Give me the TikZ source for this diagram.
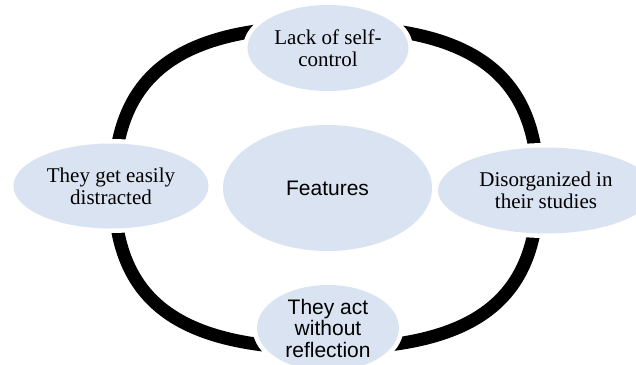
\documentclass[tikz,border=0pt]{standalone}
\usepackage{fontspec}
\setmainfont{Liberation Serif}
\setsansfont{Liberation Sans}
\usetikzlibrary{shapes.geometric}
\definecolor{nodefill}{RGB}{218,227,241}
\tikzset{
  x=1pt, y=-1pt,
  bubble/.style={ellipse, fill=nodefill, inner sep=0pt, align=center,
    preaction={draw=white, line width=9pt}},
  serifbubble/.style={bubble, font=\fontsize{21}{22}\selectfont\rmfamily},
  sansbubble/.style={bubble, font=\fontsize{21}{21.5}\selectfont\sffamily},
  loop/.style={line width=13pt, draw=black}
}
\begin{document}
\begin{tikzpicture}
\useasboundingbox (0,0) rectangle (636,364);
\clip (0,0) rectangle (636,364);
% ring
\coordinate (T) at (326,26.5);
\coordinate (L) at (114,188);
\coordinate (B) at (326,348.5);
\coordinate (R) at (538,188);
\draw[loop] (T) .. controls (178,26.5) and (114,75) .. (L)
  .. controls (114,301) and (178,348.5) .. (B)
  .. controls (474,348.5) and (538,301) .. (R)
  .. controls (538,75) and (474,26.5) .. (T) -- cycle;
% nodes
\node[serifbubble, minimum width=161pt, minimum height=86pt] (top) at (328,48) {Lack of self-\\control};
\node[serifbubble, minimum width=195pt, minimum height=85pt] (left) at (111,186) {They get easily\\distracted};
\node[serifbubble, minimum width=216pt, minimum height=86pt] (right) at (546,190.5) {Disorganized in\\their studies};
\node[sansbubble, minimum width=142pt, minimum height=86pt] (bottom) at (328,328) {They act\\without\\reflection};
\node[sansbubble, minimum width=209pt, minimum height=126pt] (center) at (327.5,188) {Features};
\end{tikzpicture}
\end{document}
